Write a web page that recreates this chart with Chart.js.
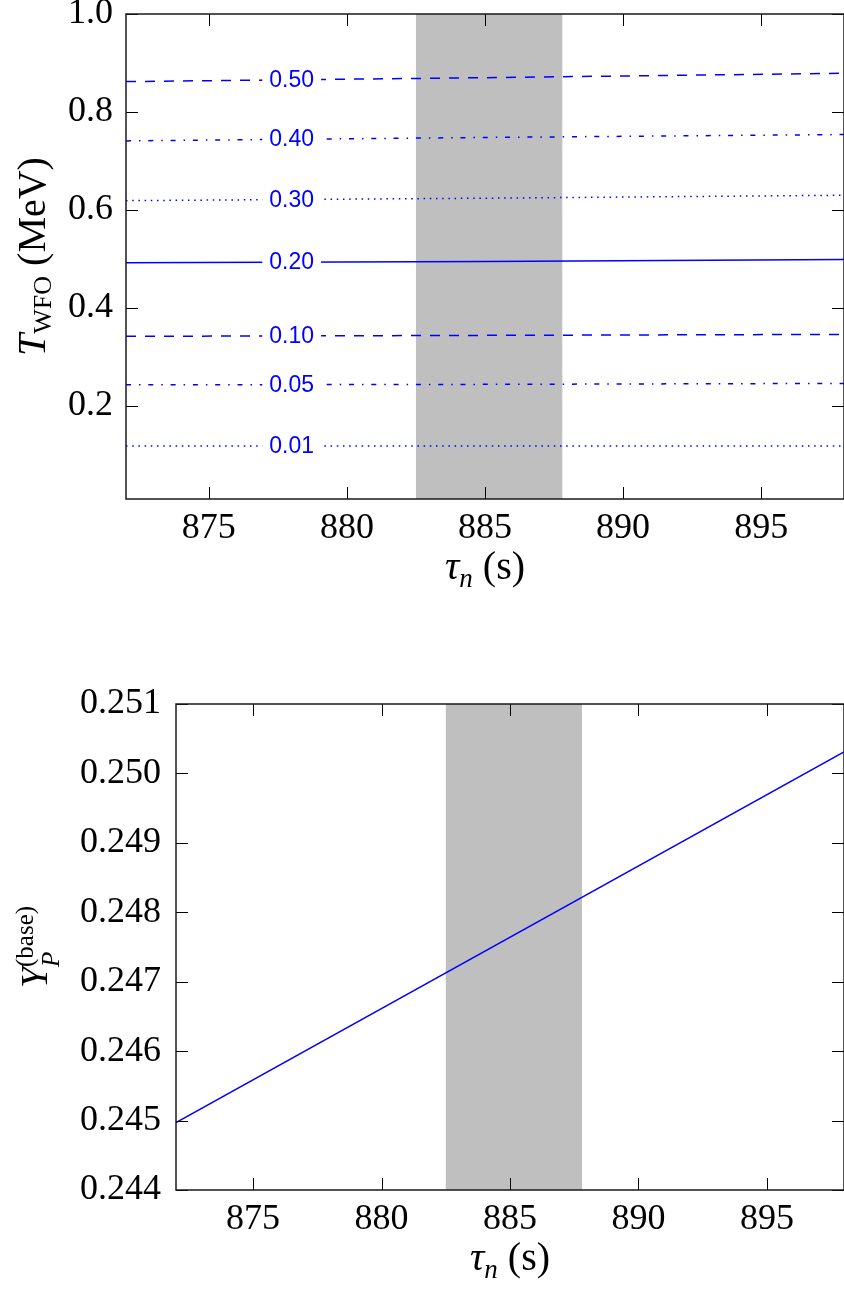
<!DOCTYPE html>
<html>
<head>
<meta charset="utf-8">
<script src="https://cdn.jsdelivr.net/npm/chart.js@4"></script>
<style>
  body { margin: 0; background: #fff; }
  canvas { display: block; }
</style>
</head>
<body>
<canvas id="twfo" width="844" height="640"></canvas>
<canvas id="yp" width="844" height="649"></canvas>
<script>
// tau_n axis, shared by both panels
const tauRange = [872, 898];
const xTicks = [875, 880, 885, 890, 895];
const bandTau = [882.5, 887.8];

// top panel: contour lines of T_WFO, read at tau = 872, 885, 898
const tauGrid = [872, 885, 898];
const levelNames = ["0.50", "0.40", "0.30", "0.20", "0.10", "0.05", "0.01"];
const levelStyles = ["dashed", "dashdot", "dotted", "solid", "dashed", "dashdot", "dotted"];
const t050 = [0.862, 0.870, 0.879];
const t040 = [0.741, 0.748, 0.754];
const t030 = [0.619, 0.624, 0.630];
const t020 = [0.492, 0.495, 0.499];
const t010 = [0.342, 0.344, 0.346];
const t005 = [0.243, 0.244, 0.246];
const t001 = [0.118, 0.118, 0.118];
const twfoTicks = [0.2, 0.4, 0.6, 0.8, 1.0];
const labelTau = 878;

// bottom panel: Y_P(base)
const tauLine = [872, 898];
const ypLine = [0.24497, 0.25031];
const ypTicks = [0.244, 0.245, 0.246, 0.247, 0.248, 0.249, 0.250, 0.251];

const serif = "'Liberation Serif', 'DejaVu Serif', serif";
const blue = "#0000ff";
const dashes = {
  solid: [],
  dashed: [10, 9],
  dashdot: [5, 8, 1.5, 7.8],
  dotted: [1.5, 4.7],
};

// draw a run of text pieces (sub/superscripts) centred on x
function drawRich(ctx, parts, x, y) {
  let total = 0;
  const widths = parts.map((p) => {
    ctx.font = p.font;
    const w = ctx.measureText(p.t).width;
    if (!p.stack) total += w;
    return w;
  });
  let cx = x - total / 2;
  ctx.textAlign = "left";
  ctx.textBaseline = "alphabetic";
  ctx.fillStyle = "#000";
  parts.forEach((p, i) => {
    ctx.font = p.font;
    ctx.fillText(p.t, cx, y + (p.dy || 0));
    if (!p.stack) cx += widths[i];
  });
}

function makeDecor(cfg) {
  return {
    id: "decor",
    beforeDatasetsDraw(chart) {
      const { ctx, chartArea: a, scales } = chart;
      const x0 = scales.x.getPixelForValue(bandTau[0]);
      const x1 = scales.x.getPixelForValue(bandTau[1]);
      ctx.save();
      ctx.fillStyle = "#bfbfbf";
      ctx.fillRect(x0, a.top, x1 - x0, a.bottom - a.top);
      ctx.restore();
    },
    afterDatasetsDraw(chart) {
      if (!cfg.contourLabels) return;
      const { ctx, scales } = chart;
      const px = scales.x.getPixelForValue(labelTau);
      ctx.save();
      chart.data.datasets.forEach((ds, i) => {
        const meta = chart.getDatasetMeta(i);
        let py = null;
        const p = meta.dataset.interpolate({ x: px }, "x");
        if (p) py = p.y;
        if (py === null) {
          const pts = meta.data;
          for (let k = 0; k < pts.length - 1; k++) {
            if (px >= pts[k].x && px <= pts[k + 1].x) {
              const f = (px - pts[k].x) / (pts[k + 1].x - pts[k].x);
              py = pts[k].y + f * (pts[k + 1].y - pts[k].y);
            }
          }
        }
        ctx.font = "23px 'Liberation Sans', Arial, sans-serif";
        const w = ctx.measureText(ds.label).width;
        ctx.fillStyle = "#fff";
        ctx.fillRect(px - w / 2 - 7, py - 4, w + 14, 8);
        ctx.save();
        ctx.translate(px, py + 7);
        ctx.scale(1, 1.08);
        ctx.fillStyle = blue;
        ctx.textAlign = "center";
        ctx.textBaseline = "alphabetic";
        ctx.fillText(ds.label, 0, 0);
        ctx.restore();
      });
      ctx.restore();
    },
    afterDraw(chart) {
      const { ctx, chartArea: a, scales } = chart;
      ctx.save();
      // inward ticks on all four sides
      ctx.strokeStyle = "#000";
      ctx.lineWidth = 1;
      ctx.beginPath();
      xTicks.forEach((v) => {
        const x = Math.round(scales.x.getPixelForValue(v)) + 0.5;
        ctx.moveTo(x, a.bottom);
        ctx.lineTo(x, a.bottom - 12);
        ctx.moveTo(x, a.top);
        ctx.lineTo(x, a.top + 12);
      });
      cfg.yTicks.forEach((v) => {
        const y = Math.round(scales.y.getPixelForValue(v)) + 0.5;
        ctx.moveTo(a.left, y);
        ctx.lineTo(a.left + 12, y);
        ctx.moveTo(a.right, y);
        ctx.lineTo(a.right - 12, y);
      });
      ctx.stroke();
      // spines
      ctx.lineWidth = 1.5;
      ctx.strokeStyle = "#1a1a1a";
      ctx.strokeRect(a.left, a.top, a.right - a.left, a.bottom - a.top);
      // x title
      drawRich(ctx, [
        { t: "\u03c4", font: "italic 40px " + serif },
        { t: "n", font: "italic 27px " + serif, dy: 8 },
        { t: " (s)", font: "40px " + serif },
      ], (a.left + a.right) / 2, a.bottom + 80);
      // y title, rotated
      ctx.translate(cfg.yTitleX, (a.top + a.bottom) / 2);
      ctx.rotate(-Math.PI / 2);
      drawRich(ctx, cfg.yTitle, 0, 0);
      ctx.restore();
    },
  };
}

function tickFont() {
  return { family: serif, size: 36 };
}

function xScale() {
  return {
    type: "linear",
    bounds: "data",
    min: tauRange[0],
    max: tauRange[1],
    afterBuildTicks: (s) => { s.ticks = xTicks.map((v) => ({ value: v })); },
    afterFit: (s) => { s.paddingLeft = 0; s.paddingRight = 0; },
    grid: { display: false, drawTicks: false },
    border: { display: false },
    ticks: { padding: 8, color: "#000", font: tickFont(), callback: (v) => String(v) },
  };
}

const contourRows = [t050, t040, t030, t020, t010, t005, t001];

new Chart(document.getElementById("twfo"), {
  type: "line",
  data: {
    datasets: contourRows.map((row, i) => ({
      label: levelNames[i],
      data: tauGrid.map((t, j) => ({ x: t, y: row[j] })),
      borderColor: blue,
      borderWidth: 1.5,
      borderDash: dashes[levelStyles[i]],
      pointRadius: 0,
      tension: 0,
      fill: false,
    })),
  },
  options: {
    responsive: false,
    animation: false,
    events: [],
    layout: { padding: { top: 14, right: 0, left: 0, bottom: 0 } },
    plugins: { legend: { display: false }, tooltip: { enabled: false } },
    scales: {
      x: Object.assign(xScale(), {
        afterFit: (s) => { s.height = 141; s.paddingLeft = 0; s.paddingRight = 0; },
      }),
      y: {
        type: "linear",
        bounds: "data",
        min: 0.01,
        max: 1.0,
        afterBuildTicks: (s) => { s.ticks = twfoTicks.map((v) => ({ value: v })); },
        afterFit: (s) => { s.width = 126; s.paddingTop = 0; s.paddingBottom = 0; },
        grid: { display: false, drawTicks: false },
        border: { display: false },
        ticks: { padding: 13, color: "#000", font: tickFont(), callback: (v) => v.toFixed(1) },
      },
    },
  },
  plugins: [makeDecor({
    contourLabels: true,
    yTicks: twfoTicks,
    yTitleX: 45,
    yTitle: [
      { t: "T", font: "italic 40px " + serif },
      { t: "WFO", font: "26px " + serif, dy: 6 },
      { t: " (MeV)", font: "40px " + serif },
    ],
  })],
});

new Chart(document.getElementById("yp"), {
  type: "line",
  data: {
    datasets: [{
      label: "Y_P",
      data: tauLine.map((t, j) => ({ x: t, y: ypLine[j] })),
      borderColor: blue,
      borderWidth: 1.5,
      pointRadius: 0,
      tension: 0,
      fill: false,
    }],
  },
  options: {
    responsive: false,
    animation: false,
    events: [],
    layout: { padding: { top: 64, right: 0, left: 0, bottom: 0 } },
    plugins: { legend: { display: false }, tooltip: { enabled: false } },
    scales: {
      x: Object.assign(xScale(), {
        afterFit: (s) => { s.height = 99; s.paddingLeft = 0; s.paddingRight = 0; },
      }),
      y: {
        type: "linear",
        bounds: "data",
        min: 0.244,
        max: 0.251,
        afterBuildTicks: (s) => { s.ticks = ypTicks.map((v) => ({ value: v })); },
        afterFit: (s) => { s.width = 176; s.paddingTop = 0; s.paddingBottom = 0; },
        grid: { display: false, drawTicks: false },
        border: { display: false },
        ticks: { padding: 15, color: "#000", font: tickFont(), callback: (v) => v.toFixed(3) },
      },
    },
  },
  plugins: [makeDecor({
    contourLabels: false,
    yTicks: ypTicks,
    yTitleX: 47,
    yTitle: [
      { t: "Y", font: "italic 38px " + serif },
      { t: "P", font: "italic 25px " + serif, dy: 12, stack: true },
      { t: "(base)", font: "25px " + serif, dy: -14 },
    ],
  })],
});
</script>
</body>
</html>
